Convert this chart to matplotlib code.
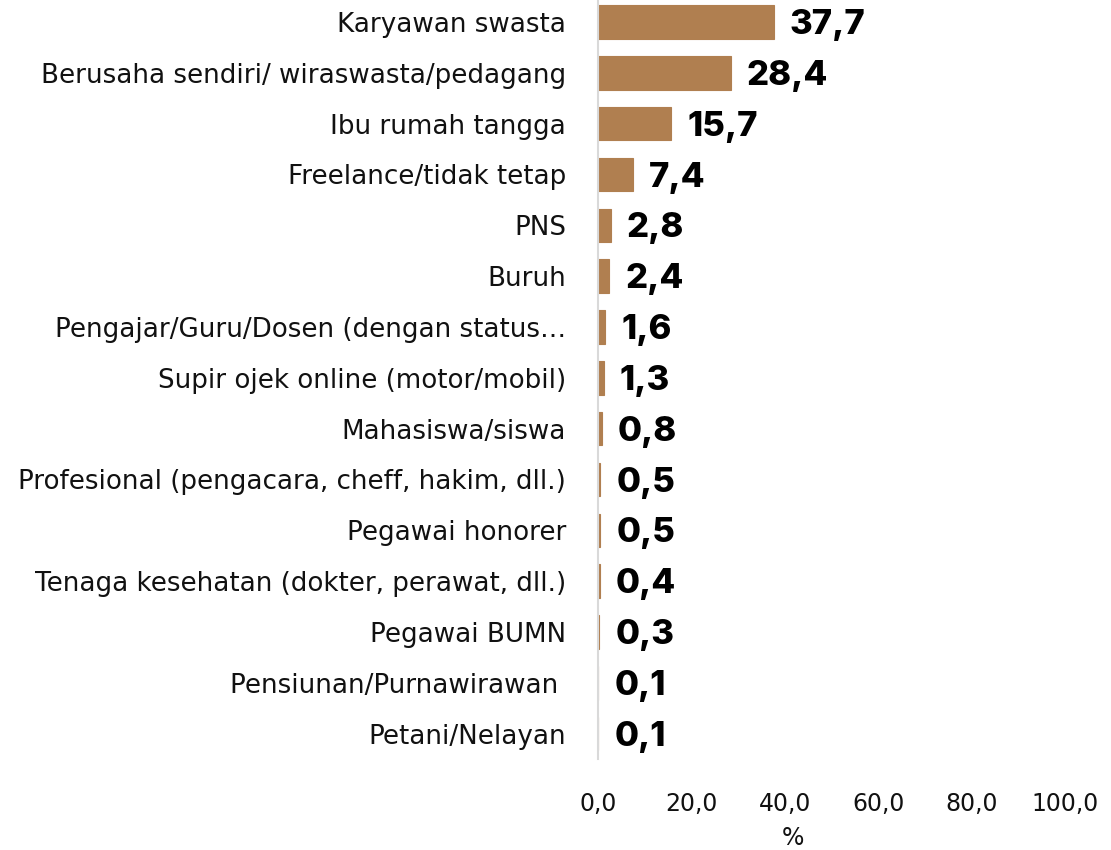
import matplotlib
matplotlib.use("Agg")
import matplotlib.pyplot as plt
from matplotlib.ticker import FixedLocator, FuncFormatter

plt.rcParams["font.family"] = ["DejaVu Sans"]

categories = [
    "Karyawan swasta",
    "Berusaha sendiri/ wiraswasta/pedagang",
    "Ibu rumah tangga",
    "Freelance/tidak tetap",
    "PNS",
    "Buruh",
    "Pengajar/Guru/Dosen (dengan status…",
    "Supir ojek online (motor/mobil)",
    "Mahasiswa/siswa",
    "Profesional (pengacara, cheff, hakim, dll.)",
    "Pegawai honorer",
    "Tenaga kesehatan (dokter, perawat, dll.)",
    "Pegawai BUMN",
    "Pensiunan/Purnawirawan ",
    "Petani/Nelayan",
]
values = [37.7, 28.4, 15.7, 7.4, 2.8, 2.4, 1.6, 1.3, 0.8, 0.5, 0.5, 0.4, 0.3, 0.1, 0.1]
x_ticks = [0, 20, 40, 60, 80, 100]

BAR_COLOR = "#B07F50"
TXT = "#111111"

fig = plt.figure(figsize=(11.11, 8.5), dpi=100)
ax = fig.add_axes([598 / 1111, 1 - 759 / 850, 467 / 1111, 762.4 / 850])

pos = list(range(len(categories)))
ax.barh(pos, values, height=0.66, color=BAR_COLOR, edgecolor=BAR_COLOR, linewidth=0.8)

for p, v in zip(pos, values):
    ax.text(v + 3.4, p + 0.06, f"{v:.1f}".replace(".", ","), va="center", ha="left",
            fontsize=25, fontweight="heavy", color="black",
            family=["Inter", "DejaVu Sans"])

ax.set_ylim(len(categories) - 0.5, -0.5)
ax.set_xlim(0, 100)
ax.set_yticks(pos)
ax.set_yticklabels(categories, fontsize=18.8, color=TXT)
ax.xaxis.set_major_locator(FixedLocator(x_ticks))
ax.xaxis.set_major_formatter(FuncFormatter(lambda x, _: f"{x:.1f}".replace(".", ",")))
ax.tick_params(axis="x", length=0, labelsize=17, pad=24, colors=TXT)
ax.tick_params(axis="y", length=0, pad=23)
ax.set_xlabel("%", fontsize=17, color=TXT)
ax.xaxis.set_label_coords((793 - 598) / 467, -(838 - 759) / 762.4, transform=ax.transAxes)
ax.xaxis.label.set_va("center")

for s in ("top", "right", "bottom"):
    ax.spines[s].set_visible(False)
ax.spines["left"].set_color("#D9D9D9")
ax.spines["left"].set_linewidth(1.5)

fig.savefig("out.png", dpi=100, facecolor="white")
